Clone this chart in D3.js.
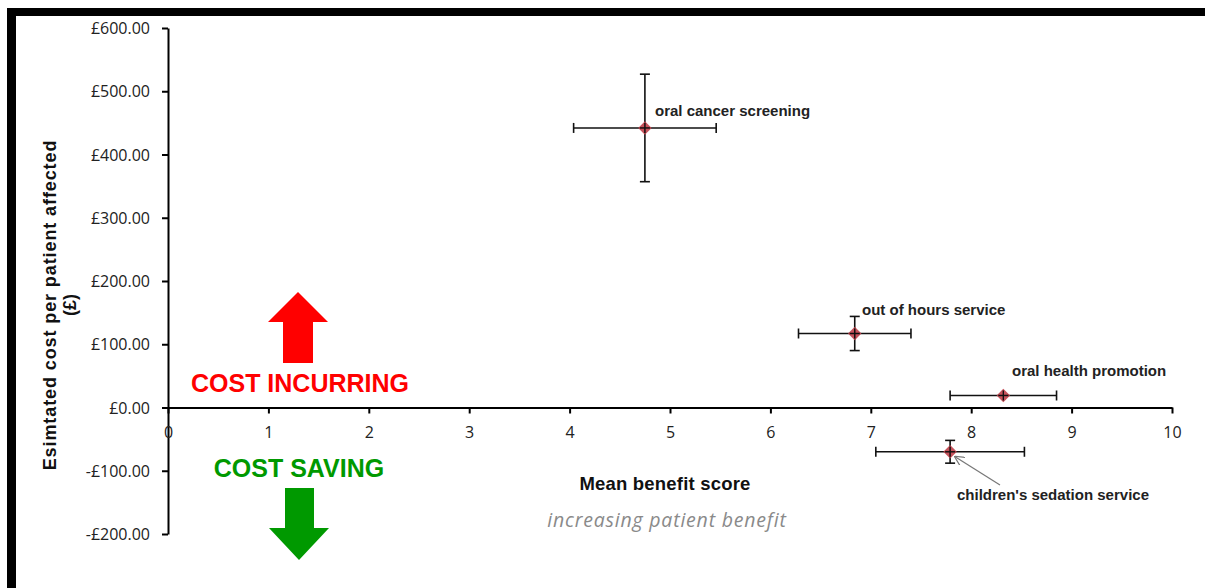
<!DOCTYPE html>
<html>
<head>
<meta charset="utf-8">
<script src="https://cdn.jsdelivr.net/npm/d3@7"></script>
<style>
  body { margin: 0; background: #fff; }
  svg { display: block; }
</style>
</head>
<body>
<div id="chart"></div>
<script>
const services = ['oral cancer screening', 'out of hours service', 'oral health promotion', "children's sedation service"];
const benefit = [4.75, 6.84, 8.32, 7.79];
const benefitErr = [0.71, 0.56, 0.53, 0.74];
const cost = [442, 117, 19, -70];
const costErr = [85, 27, 0, 18];
const xTicks = [0, 1, 2, 3, 4, 5, 6, 7, 8, 9, 10];
const yTicks = [-200, -100, 0, 100, 200, 300, 400, 500, 600];

const width = 1205, height = 588;
const svg = d3.select('#chart').append('svg')
  .attr('width', width).attr('height', height);

const sans = '"Liberation Sans", Arial, sans-serif';
const tickFont = '"Open Sans", sans-serif';

// frame (dark border top and left)
svg.append('rect').attr('x', 7).attr('y', 8).attr('width', width - 7).attr('height', 8).attr('fill', '#000');
svg.append('rect').attr('x', 7).attr('y', 8).attr('width', 9).attr('height', height - 8).attr('fill', '#000');

const x = d3.scaleLinear().domain([0, 10]).range([168, 1172]);
const y = d3.scaleLinear().domain([-200, 600]).range([534, 28]);

const fmt = v => (v < 0 ? '-£' : '£') + Math.abs(v).toFixed(2);

const yAxis = svg.append('g')
  .attr('transform', `translate(${x(0)},0)`)
  .call(d3.axisLeft(y).tickValues(yTicks).tickFormat(fmt).tickSize(6).tickSizeOuter(0));
yAxis.select('.domain').attr('stroke', '#000').attr('stroke-width', 2);
yAxis.selectAll('.tick line').attr('stroke-width', 2);
yAxis.selectAll('text')
  .attr('x', -18).attr('dy', '0.35em')
  .style('font-family', tickFont).style('font-size', '16px').style('fill', '#222');

const xAxis = svg.append('g')
  .attr('transform', `translate(0,${y(0)})`)
  .call(d3.axisBottom(x).tickValues(xTicks).tickFormat(d3.format('d')).tickSize(6).tickSizeOuter(0));
xAxis.select('.domain').attr('stroke', '#000').attr('stroke-width', 2);
xAxis.selectAll('.tick line').attr('stroke-width', 2);
xAxis.selectAll('text')
  .attr('y', 19)
  .style('font-family', tickFont).style('font-size', '16px').style('fill', '#222');

const pts = services.map((s, i) => ({ name: s, bx: benefit[i], bxe: benefitErr[i], cy: cost[i], cye: costErr[i] }));

// error bars
const eb = svg.append('g').attr('stroke', '#111').attr('stroke-width', 1.6);
pts.forEach(p => {
  eb.append('line').attr('x1', x(p.bx - p.bxe)).attr('x2', x(p.bx + p.bxe)).attr('y1', y(p.cy)).attr('y2', y(p.cy));
  [p.bx - p.bxe, p.bx + p.bxe].forEach(v => {
    eb.append('line').attr('x1', x(v)).attr('x2', x(v)).attr('y1', y(p.cy) - 5).attr('y2', y(p.cy) + 5);
  });
  if (p.cye > 0) {
    eb.append('line').attr('x1', x(p.bx)).attr('x2', x(p.bx)).attr('y1', y(p.cy - p.cye)).attr('y2', y(p.cy + p.cye));
    [p.cy - p.cye, p.cy + p.cye].forEach(v => {
      eb.append('line').attr('x1', x(p.bx) - 5).attr('x2', x(p.bx) + 5).attr('y1', y(v)).attr('y2', y(v));
    });
  }
});

// diamond markers
svg.append('g').selectAll('path').data(pts).enter().append('path')
  .attr('d', d3.symbol().type(d3.symbolDiamond2).size(115))
  .attr('transform', d => `translate(${x(d.bx)},${y(d.cy)})`)
  .attr('fill', '#c0404a').attr('fill-opacity', 0.9);
svg.append('g').attr('stroke', '#111').attr('stroke-width', 1.4).selectAll('g').data(pts).enter().append('g')
  .each(function (d) {
    const g = d3.select(this);
    g.append('line').attr('x1', x(d.bx) - 5).attr('x2', x(d.bx) + 5).attr('y1', y(d.cy)).attr('y2', y(d.cy));
    g.append('line').attr('x1', x(d.bx)).attr('x2', x(d.bx)).attr('y1', y(d.cy) - 5).attr('y2', y(d.cy) + 5);
  });

// point labels
const labelPos = [[655, 116], [862, 315], [1012, 376], [957, 500]];
svg.append('g').selectAll('text').data(pts).enter().append('text')
  .attr('x', (d, i) => labelPos[i][0]).attr('y', (d, i) => labelPos[i][1])
  .style('font-family', sans).style('font-weight', 'bold')
  .style('font-size', '15px').style('fill', '#222')
  .text(d => d.name);

// arrow for children's sedation label
svg.append('defs').append('marker')
  .attr('id', 'open').attr('viewBox', '0 0 10 10').attr('refX', 9).attr('refY', 5)
  .attr('markerWidth', 10).attr('markerHeight', 10).attr('orient', 'auto')
  .attr('markerUnits', 'userSpaceOnUse')
  .append('path').attr('d', 'M0,0 L10,5 L0,10').attr('fill', 'none').attr('stroke', '#777').attr('stroke-width', 1.2);
svg.append('line')
  .attr('x1', 1000).attr('y1', 485).attr('x2', x(benefit[3]) + 5).attr('y2', y(cost[3]) + 5)
  .attr('stroke', '#777').attr('stroke-width', 1.2).attr('marker-end', 'url(#open)');

// axis titles
svg.append('text')
  .attr('transform', 'translate(56,305) rotate(-90)')
  .attr('text-anchor', 'middle')
  .style('font-family', sans).style('font-weight', 'bold')
  .style('font-size', '18px').style('letter-spacing', '0.9px').style('fill', '#111')
  .text('Esimtated cost per patient affected');
svg.append('text')
  .attr('transform', 'translate(76,305) rotate(-90)')
  .attr('text-anchor', 'middle')
  .style('font-family', sans).style('font-weight', 'bold')
  .style('font-size', '18px').style('fill', '#111')
  .text('(£)');

svg.append('text')
  .attr('x', 665).attr('y', 490).attr('text-anchor', 'middle')
  .style('font-family', sans).style('font-weight', 'bold')
  .style('font-size', '18.5px').style('letter-spacing', '0.2px').style('fill', '#111')
  .text('Mean benefit score');
svg.append('text')
  .attr('x', 667).attr('y', 527).attr('text-anchor', 'middle')
  .style('font-family', tickFont).style('font-style', 'italic')
  .style('font-size', '19.5px').style('letter-spacing', '0.8px').style('fill', '#8a8a8a')
  .text('increasing patient benefit');

// cost incurring / saving
svg.append('text')
  .attr('x', 300).attr('y', 392).attr('text-anchor', 'middle')
  .style('font-family', sans).style('font-weight', 'bold')
  .style('font-size', '25px').style('fill', '#ff0000')
  .text('COST INCURRING');
svg.append('text')
  .attr('x', 299).attr('y', 477).attr('text-anchor', 'middle')
  .style('font-family', sans).style('font-weight', 'bold')
  .style('font-size', '25px').style('fill', '#009900')
  .text('COST SAVING');

svg.append('path')
  .attr('d', 'M298,292 L328,322 L313,322 L313,363 L283,363 L283,322 L268,322 Z')
  .attr('fill', '#ff0000');
svg.append('path')
  .attr('d', 'M285,488 L314,488 L314,528 L329,528 L299,560 L269,528 L285,528 Z')
  .attr('fill', '#009900');
</script>
</body>
</html>
